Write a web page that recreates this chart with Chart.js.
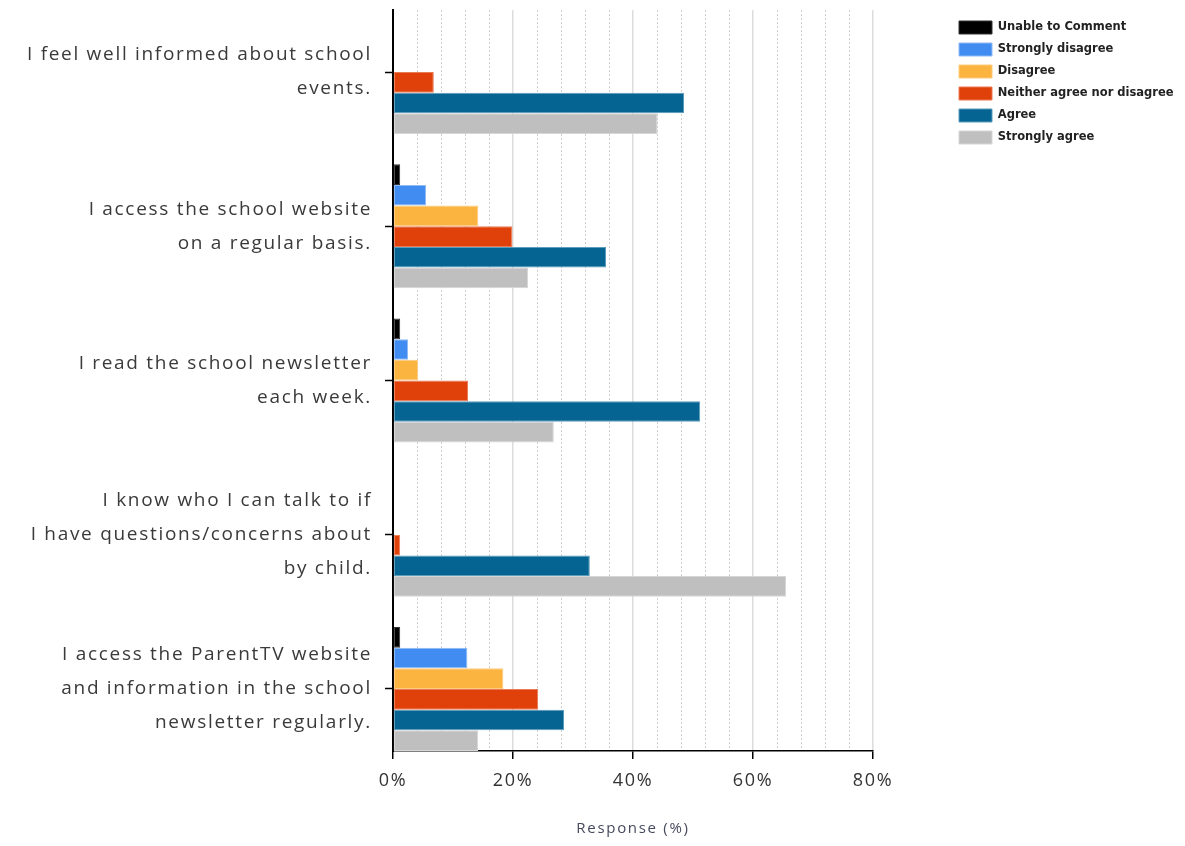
<!DOCTYPE html>
<html>
<head>
<meta charset="utf-8">
<script src="https://cdn.jsdelivr.net/npm/chart.js@4"></script>
<style>
  html, body { margin: 0; padding: 0; background: #fff; }
  #wrap { width: 1185px; height: 846px; }
</style>
</head>
<body>
<div id="wrap"><canvas id="myChart"></canvas></div>
<script>
// statements shown on the left, one group of bars each
const questions = [
    ['I feel well informed about school', 'events.'],
    ['I access the school website', 'on a regular basis.'],
    ['I read the school newsletter', 'each week.'],
    ['I know who I can talk to if', 'I have questions/concerns about', 'by child.'],
    ['I access the ParentTV website', 'and information in the school', 'newsletter regularly.']
];

// response % per statement
const unableToComment = [0, 1.2, 1.2, 0, 1.2];
const stronglyDisagree = [0, 5.5, 2.5, 0, 12.4];
const disagree = [0, 14.2, 4.2, 0, 18.4];
const neither = [6.8, 19.9, 12.5, 1.2, 24.2];
const agree = [48.5, 35.5, 51.2, 32.8, 28.5];
const stronglyAgree = [44.1, 22.5, 26.8, 65.5, 14.2];

const xTicks = [0, 20, 40, 60, 80];

const labelFont = 'Open Sans';
const spacing = '1.7px';

function toPoints(values) {
    return values.map((v, i) => ({ x: v, y: i }));
}

// the original text is drawn with wide letter spacing, except the legend
const spacingPlugin = {
    id: 'spacing',
    beforeInit(chart) {
        const legend = chart.legend;
        const fit = legend.fit;
        const draw = legend.draw;
        legend.fit = function () {
            const old = this.ctx.letterSpacing;
            this.ctx.letterSpacing = '0px';
            fit.apply(this, arguments);
            this.ctx.letterSpacing = old;
            this.width = 235;
        };
        legend.draw = function () {
            const c = this.ctx;
            const old = c.letterSpacing;
            c.save();
            c.letterSpacing = '0px';
            c.translate(0, 2);
            draw.apply(this, arguments);
            c.restore();
            c.letterSpacing = old;
        };
    },
    beforeUpdate(chart) { chart.ctx.letterSpacing = spacing; },
    beforeLayout(chart) { chart.ctx.letterSpacing = spacing; },
    beforeDraw(chart) { chart.ctx.letterSpacing = spacing; }
};

const ctx = document.getElementById('myChart');

const myChart = new Chart(ctx, {
    type: 'bar',
    data: {
        datasets: [
            { label: 'Unable to Comment', data: toPoints(unableToComment), backgroundColor: '#000000', borderColor: '#333333' },
            { label: 'Strongly disagree', data: toPoints(stronglyDisagree), backgroundColor: '#418CF0', borderColor: '#8fbaf5' },
            { label: 'Disagree', data: toPoints(disagree), backgroundColor: '#FCB441', borderColor: '#fdcb7c' },
            { label: 'Neither agree nor disagree', data: toPoints(neither), backgroundColor: '#E0400A', borderColor: '#ea7a55' },
            { label: 'Agree', data: toPoints(agree), backgroundColor: '#056492', borderColor: '#5b9bbb' },
            { label: 'Strongly agree', data: toPoints(stronglyAgree), backgroundColor: '#BFBFBF', borderColor: '#d6d6d6' }
        ]
    },
    plugins: [spacingPlugin],
    options: {
        indexAxis: 'y',
        responsive: true,
        maintainAspectRatio: false,
        animation: false,
        datasets: {
            bar: { categoryPercentage: 0.804, barPercentage: 1, borderWidth: 1, borderSkipped: false }
        },
        layout: { padding: { top: 10, left: 0, right: 0, bottom: 0 } },
        plugins: {
            tooltip: { enabled: false },
            legend: {
                position: 'right',
                align: 'start',
                labels: {
                    boxWidth: 33,
                    boxHeight: 13,
                    padding: 9,
                    color: '#222',
                    font: { family: 'DejaVu Sans', size: 11.5, weight: 'bold' }
                }
            }
        },
        scales: {
            x: {
                type: 'linear',
                min: 0,
                max: 80,
                afterBuildTicks: (s) => { s.ticks = xTicks.map(v => ({ value: v })); },
                afterFit: (s) => { s.height = 95; s.paddingLeft = 0; s.paddingRight = 0; },
                ticks: {
                    padding: 11,
                    color: '#333',
                    font: { family: labelFont, size: 18 },
                    callback: (v) => v + '%'
                },
                grid: { color: '#dcdcdc', lineWidth: 1.5, tickColor: '#000', tickLength: 8, tickWidth: 1.5 },
                border: { color: '#000', width: 1.5 },
                title: {
                    display: true,
                    text: 'Response (%)',
                    color: '#454a5e',
                    font: { family: labelFont, size: 15 },
                    padding: { top: 0, bottom: 8 }
                }
            },
            minor: {
                type: 'linear',
                axis: 'x',
                position: 'bottom',
                min: 0,
                max: 80,
                ticks: { display: false, stepSize: 4 },
                grid: { color: (c) => (c.tick.value % 20 === 0 ? 'rgba(0,0,0,0)' : '#cfcfcf'), lineWidth: 1, drawTicks: false },
                border: { display: false, dash: [2, 2] }
            },
            y: {
                type: 'linear',
                reverse: true,
                offset: false,
                min: -0.402,
                max: 4.402,
                afterBuildTicks: (s) => { s.ticks = questions.map((q, i) => ({ value: i })); },
                afterFit: (s) => { s.width = 393; s.paddingTop = 0; s.paddingBottom = 0; },
                ticks: {
                    padding: 13,
                    color: '#3a3a3a',
                    font: { family: labelFont, size: 19, lineHeight: 1.79 },
                    callback: (v) => questions[v]
                },
                grid: { offset: false, drawOnChartArea: false, tickColor: '#000', tickLength: 8, tickWidth: 1.5 },
                border: { color: '#000', width: 2 }
            },
            gap: {
                type: 'linear',
                axis: 'y',
                position: 'right',
                ticks: { display: false },
                grid: { display: false },
                border: { display: false },
                afterFit: (s) => { s.width = 77; }
            }
        }
    }
});
</script>
</body>
</html>
